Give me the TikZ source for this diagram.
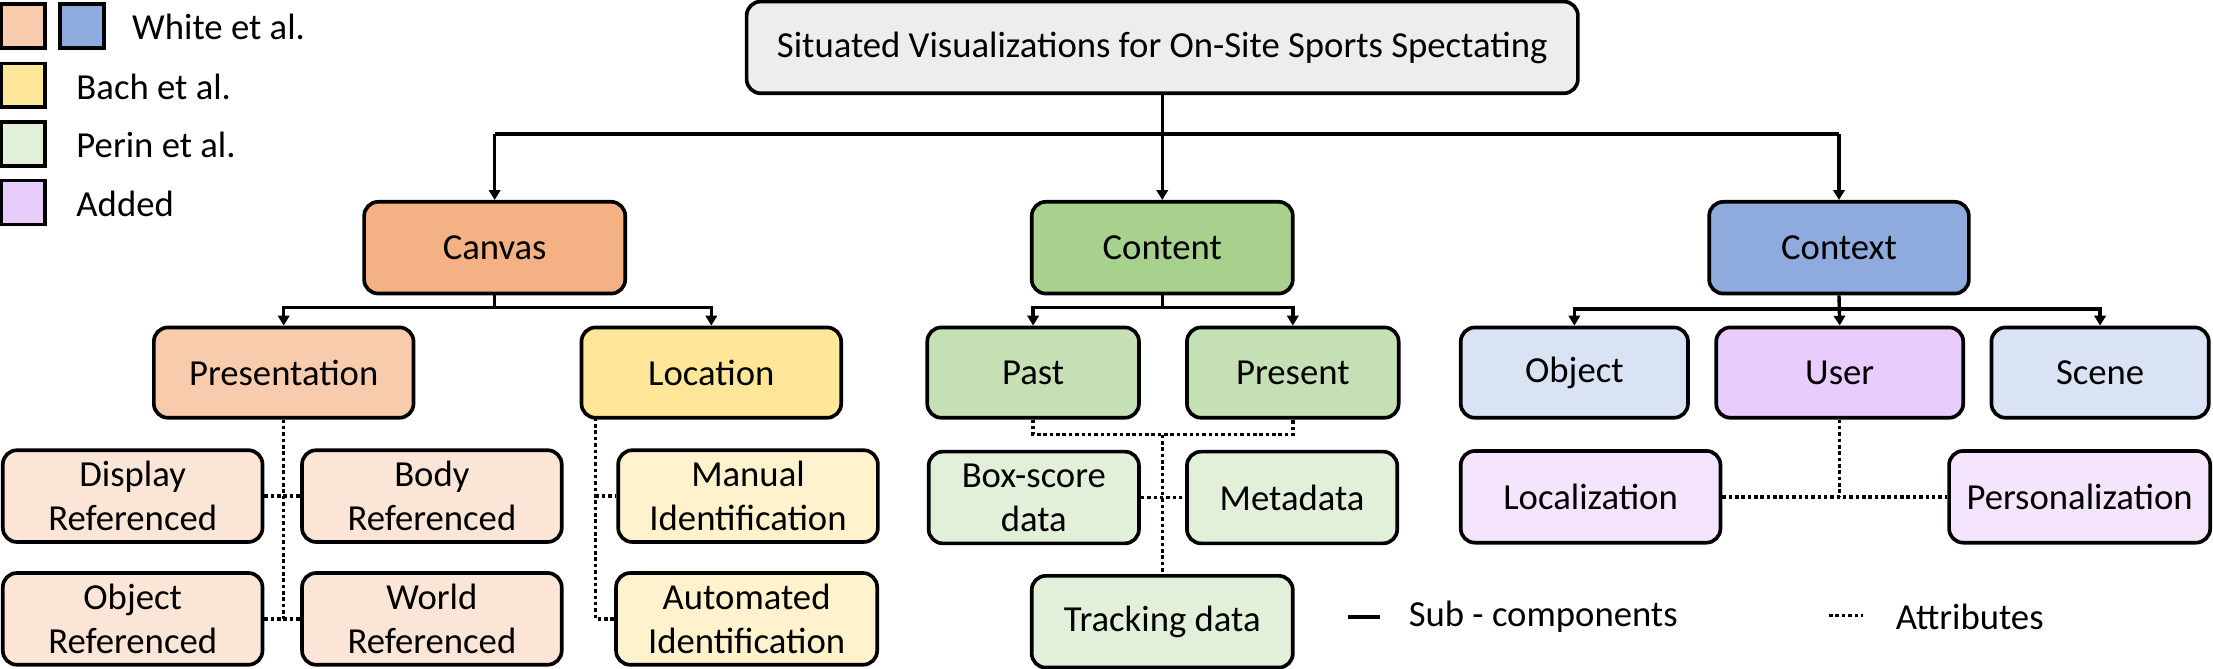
\documentclass[tikz,border=0pt]{standalone}
\usepackage{fontspec}
\setmainfont{Carlito}
\usetikzlibrary{arrows.meta}
\definecolor{cTitle}{HTML}{EDEDED}
\definecolor{cCanvas}{HTML}{F4B183}
\definecolor{cPres}{HTML}{F8CBAD}
\definecolor{cPresL}{HTML}{FBE5D6}
\definecolor{cLoc}{HTML}{FFE699}
\definecolor{cLocL}{HTML}{FFF2CC}
\definecolor{cContent}{HTML}{A9D18E}
\definecolor{cPast}{HTML}{C5E0B4}
\definecolor{cPastL}{HTML}{E2F0D9}
\definecolor{cContext}{HTML}{8FAADC}
\definecolor{cObj}{HTML}{DAE3F3}
\definecolor{cUser}{HTML}{E8CCFC}
\definecolor{cUserL}{HTML}{F4E5FD}
\tikzset{
  box/.style={draw=black, line width=2.6pt, rounded corners=10pt, align=center,
     inner sep=0pt, minimum height=65pt, font=\fontsize{26}{31}\selectfont},
  legbox/.style={draw=black, line width=2.6pt, minimum width=31pt, minimum height=31pt, inner sep=0pt},
  legtext/.style={anchor=west, inner sep=0pt, font=\fontsize{26}{31}\selectfont},
  conn/.style={line width=2.4pt},
  arr/.style={line width=2.4pt, -{Triangle[width=8pt,length=7pt]}},
  attr/.style={line width=2.5pt, dash pattern=on 2.5pt off 2pt},
}
\begin{document}
\begin{tikzpicture}[x=1pt,y=-1pt]
\useasboundingbox (0,0) rectangle (1568,474);
% legend
\node[legbox, fill=cPres] (lg1) at (16.5,18.5) {};
\node[legbox, fill=cContext] (lg2) at (58,18.5) {};
\node[legtext] (lt1) at (93.5,19) {White et al.};
\node[legbox, fill=cLoc] (lg3) at (16.5,60.5) {};
\node[legtext] (lt2) at (54,61.5) {Bach et al.};
\node[legbox, fill=cPastL] (lg4) at (16.5,102) {};
\node[legtext] (lt3) at (54,103) {Perin et al.};
\node[legbox, fill=cUser] (lg5) at (16.5,143.5) {};
\node[legtext] (lt4) at (54,144.5) {Added};
% title
\node[box, fill=cTitle, minimum width=589pt] (title) at (823.5,33.6) {Situated Visualizations for On-Site Sports Spectating};
% level 1
\node[box, fill=cCanvas, minimum width=185pt] (canvas) at (350.5,175.5) {Canvas};
\node[box, fill=cContent, minimum width=185pt] (content) at (823.5,175.5) {Content};
\node[box, fill=cContext, minimum width=184pt] (context) at (1303,175.5) {Context};
% level 2
\node[box, fill=cPres, minimum width=184pt, minimum height=64pt] (presentation) at (201,264) {Presentation};
\node[box, fill=cLoc, minimum width=184pt, minimum height=64pt] (location) at (504,264) {Location};
\node[box, fill=cPast, minimum width=150pt, minimum height=64pt] (past) at (732,264) {Past};
\node[box, fill=cPast, minimum width=150pt, minimum height=64pt] (present) at (916,264) {Present};
\node[box, fill=cObj, minimum width=161pt, minimum height=64pt] (object) at (1115.5,264) {Object};
\node[box, fill=cUser, minimum width=175pt, minimum height=64pt] (user) at (1303.5,264) {User};
\node[box, fill=cObj, minimum width=154pt, minimum height=64pt] (scene) at (1488,264) {Scene};
% level 3
\node[box, fill=cPresL, minimum width=184pt] (display) at (94,351.5) {Display\\Referenced};
\node[box, fill=cPresL, minimum width=184pt] (body) at (306,351.5) {Body\\Referenced};
\node[box, fill=cPresL, minimum width=184pt] (objref) at (94,438.5) {Object\\Referenced};
\node[box, fill=cPresL, minimum width=184pt] (world) at (306,438.5) {World\\Referenced};
\node[box, fill=cLocL, minimum width=184pt] (manual) at (530,351.5) {Manual\\Identification};
\node[box, fill=cLocL, minimum width=185pt] (automated) at (529,438.5) {Automated\\Identification};
\node[box, fill=cPastL, minimum width=149pt] (boxscore) at (732.5,352.5) {Box-score\\data};
\node[box, fill=cPastL, minimum width=149pt] (metadata) at (915.5,352.5) {Metadata};
\node[box, fill=cPastL, minimum width=185pt] (tracking) at (823.5,440.5) {Tracking data};
\node[box, fill=cUserL, minimum width=184pt] (localization) at (1127,352) {Localization};
\node[box, fill=cUserL, minimum width=185pt] (personalization) at (1473.5,352) {Personalization};
% hubs
\coordinate (hub) at (823.5,95);
\coordinate (cb) at (350.5,218);
\coordinate (nb) at (823.5,218);
\coordinate (xb) at (1303,219);
\coordinate (pd) at (823.5,308);
\coordinate (lx) at (422,296);
% main connectors
\draw[arr] (title.south) -- (content.north);
\draw[conn] (hub -| canvas.north) -- (hub -| context.north);
\draw[arr] (hub -| canvas.north) -- (canvas.north);
\draw[arr] (hub -| context.north) -- (context.north);
\draw[conn] (canvas.south) -- (cb);
\draw[arr] (cb) -| (presentation.north);
\draw[arr] (cb) -| (location.north);
\draw[conn] (content.south) -- (nb);
\draw[arr] (nb) -| (past.north);
\draw[arr] (nb) -| (present.north);
\draw[arr] (context.south) -- (user.north);
\draw[arr] (xb) -| (object.north);
\draw[arr] (xb) -| (scene.north);
% attributes
\draw[attr] (presentation.south) -- (presentation.south |- objref.east);
\draw[attr] (display.east) -- (body.west);
\draw[attr] (objref.east) -- (world.west);
\draw[attr] (lx) |- (automated.west);
\draw[attr] (lx |- manual.west) -- (manual.west);
\draw[attr] (past.south) |- (pd) -| (present.south);
\draw[attr] (pd) -- (tracking.north);
\draw[attr] (boxscore.east) -- (metadata.west);
\draw[attr] (user.south) -- (user.south |- localization.east);
\draw[attr] (localization.east) -- (personalization.west);
% bottom legend
\coordinate (ls1) at (955,437);
\coordinate (ls2) at (978,437);
\draw[line width=2.8pt] (ls1) -- (ls2);
\node[legtext] (sub) at (998,437) {Sub - components};
\coordinate (ld1) at (1296,436);
\coordinate (ld2) at (1320,436);
\draw[attr] (ld1) -- (ld2);
\node[legtext] (att) at (1343,437) {Attributes};
\end{tikzpicture}
\end{document}
